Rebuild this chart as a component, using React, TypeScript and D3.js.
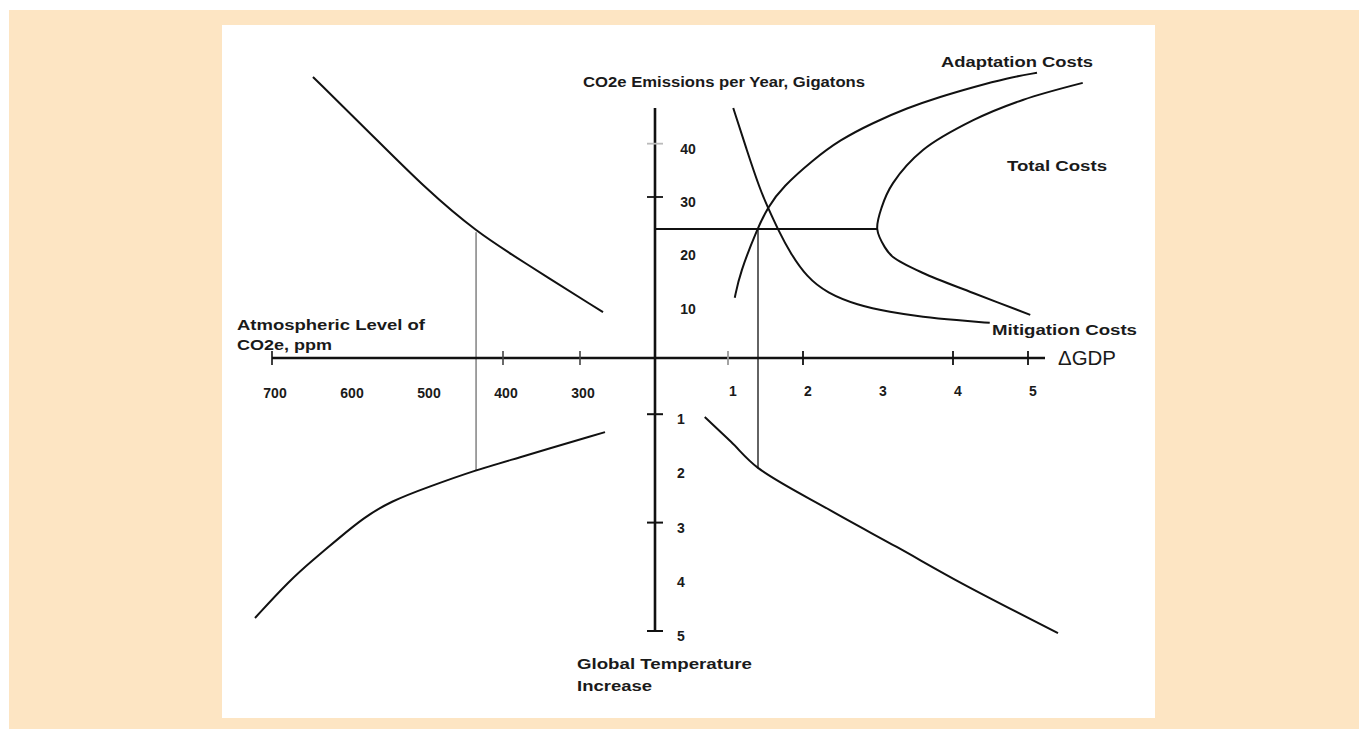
import React, { useEffect, useRef } from "react";
import * as d3 from "d3";

// upper left quadrant: atmospheric CO2e (ppm) vs emissions (Gt/yr)
const upperLeftPpm = [646.8, 572.7, 498.7, 433.8, 377.9, 270.1];
const upperLeftEmissions = [52.5, 42.0, 31.3, 23.4, 18.2, 8.4];

// lower left quadrant: ppm vs temperature increase
const lowerLeftPpm = [267.5, 390.9, 435.1, 494.8, 546.8, 581.8, 611.7, 646.8, 676.6, 722.1];
const lowerLeftTemp = [1.33, 1.85, 2.03, 2.33, 2.61, 2.92, 3.27, 3.69, 4.06, 4.76];

// upper right quadrant: cost curves (delta GDP vs emissions)
const adaptationGdp = [1.09, 1.16, 1.39, 1.53, 1.73, 2.13, 2.49, 2.93, 3.39, 3.83, 4.27, 4.72, 5.12];
const adaptationEmissions = [11.1, 15.8, 24.0, 28.1, 31.9, 36.9, 40.7, 43.9, 46.7, 48.8, 50.6, 52.3, 53.3];

const mitigationGdp = [1.07, 1.25, 1.43, 1.53, 1.67, 1.83, 2.05, 2.32, 2.72, 3.16, 3.6, 4.05, 4.49];
const mitigationEmissions = [46.7, 38.8, 31.3, 28.1, 23.8, 19.5, 15.0, 12.0, 9.75, 8.4, 7.5, 6.9, 6.4];

const totalGdp = [5.73, 4.93, 4.27, 3.6, 3.2, 3.05, 2.99, 3.09, 3.2, 3.6, 4.27, 5.03];
const totalEmissions = [51.4, 48.2, 44.4, 38.8, 32.6, 28.1, 24.0, 20.6, 18.75, 15.75, 12.0, 7.9];

// lower right quadrant: delta GDP vs temperature
const lowerRightGdp = [0.69, 1.04, 1.4, 2.36, 3.25, 4.13, 5.4];
const lowerRightTemp = [1.05, 1.51, 1.99, 2.77, 3.45, 4.13, 5.04];

// optimum read-offs
const optimumEmissions = 24;
const optimumGdp = 1.4;
const optimumTemp = 2;
const minTotalGdp = 2.99;
const leftRefPpm = 435;
const leftRefEmissions = 23.4;
const leftRefTemp = 2.03;

// tick labels
const ppmTicks = [700, 600, 500, 400, 300];
const ppmTickMarks = [700, 400, 300];
const gdpTicks = [1, 2, 3, 4, 5];
const gdpTickMarks = [1, 2, 4, 5];
const emissionTicks = [40, 30, 20, 10];
const emissionTickMarks = [30, 40];
const tempTicks = [1, 2, 3, 4, 5];
const tempTickMarks = [1, 3, 5];

const FONT = "'Liberation Sans', Arial, sans-serif";

export default function App() {
  const ref = useRef<SVGSVGElement>(null);

  useEffect(() => {
    const svg = d3.select(ref.current);
    svg.selectAll("*").remove();

    const ppmX = d3.scaleLinear().domain([300, 700]).range([580, 272]);
    const gdpX = d3.scaleLinear().domain([0, 5]).range([653, 1028]);
    const emY = d3.scaleLinear().domain([0, 30]).range([357, 197]);
    const tempY = d3.scaleLinear().domain([0, 5]).range([360, 631]);

    const axisX = 655;
    const axisY = 358;

    // background
    svg.append("rect").attr("x", 9).attr("y", 10).attr("width", 1350).attr("height", 719).attr("fill", "#fde5c3");
    svg.append("rect").attr("x", 222).attr("y", 25).attr("width", 933).attr("height", 693).attr("fill", "#ffffff");

    const g = svg.append("g");

    // reference lines
    g.append("line")
      .attr("x1", ppmX(leftRefPpm)).attr("x2", ppmX(leftRefPpm))
      .attr("y1", emY(leftRefEmissions)).attr("y2", tempY(leftRefTemp))
      .attr("stroke", "#555").attr("stroke-width", 1.1);
    g.append("line")
      .attr("x1", gdpX(optimumGdp)).attr("x2", gdpX(optimumGdp))
      .attr("y1", emY(optimumEmissions)).attr("y2", tempY(optimumTemp))
      .attr("stroke", "#222").attr("stroke-width", 1.4);
    g.append("line")
      .attr("x1", axisX).attr("x2", gdpX(minTotalGdp))
      .attr("y1", emY(optimumEmissions)).attr("y2", emY(optimumEmissions))
      .attr("stroke", "#111").attr("stroke-width", 2);

    // axes
    g.append("line").attr("x1", 272).attr("x2", 1045).attr("y1", axisY).attr("y2", axisY)
      .attr("stroke", "#111").attr("stroke-width", 2.6);
    g.append("line").attr("x1", axisX).attr("x2", axisX).attr("y1", 108).attr("y2", tempY(5))
      .attr("stroke", "#111").attr("stroke-width", 2.6);

    // tick marks
    g.selectAll(".ppmTick").data(ppmTickMarks).enter().append("line")
      .attr("x1", d => ppmX(d)).attr("x2", d => ppmX(d))
      .attr("y1", axisY - 7).attr("y2", axisY + 7)
      .attr("stroke", (d, i) => (i === 0 ? "#111" : "#444")).attr("stroke-width", 1.6);
    g.selectAll(".gdpTick").data(gdpTickMarks).enter().append("line")
      .attr("x1", d => gdpX(d)).attr("x2", d => gdpX(d))
      .attr("y1", axisY - 7).attr("y2", axisY + 7)
      .attr("stroke", d => (d === 1 ? "#999" : "#111")).attr("stroke-width", 1.8);
    g.selectAll(".emTick").data(emissionTickMarks).enter().append("line")
      .attr("x1", axisX - 8).attr("x2", axisX + 8)
      .attr("y1", d => emY(d)).attr("y2", d => emY(d))
      .attr("stroke", d => (d === 40 ? "#bbb" : "#111")).attr("stroke-width", 1.8);
    g.selectAll(".tempTick").data(tempTickMarks).enter().append("line")
      .attr("x1", axisX - 8).attr("x2", axisX + 8)
      .attr("y1", d => tempY(d)).attr("y2", d => tempY(d))
      .attr("stroke", "#111").attr("stroke-width", 2);

    // tick labels
    const tickText = (sel: any) =>
      sel.attr("font-family", FONT).attr("font-weight", "bold").attr("font-size", 14)
        .attr("fill", "#1a1a1a").attr("text-anchor", "middle");

    g.selectAll(".ppmLabel").data(ppmTicks).enter().append("text")
      .call(tickText).attr("x", d => ppmX(d) + 3).attr("y", 398).text(d => d);
    g.selectAll(".gdpLabel").data(gdpTicks).enter().append("text")
      .call(tickText).attr("x", d => gdpX(d) + 5).attr("y", 396).text(d => d);
    g.selectAll(".emLabel").data(emissionTicks).enter().append("text")
      .call(tickText).attr("x", 688).attr("y", d => emY(d) + 10).text(d => d);
    g.selectAll(".tempLabel").data(tempTicks).enter().append("text")
      .call(tickText).attr("x", 681).attr("y", d => tempY(d) + 10).text(d => d);

    // curves
    const drawCurve = (xs: number[], ys: number[], sx: any, sy: any, curve: any) => {
      const pts = xs.map((v, i) => [sx(v), sy(ys[i])] as [number, number]);
      g.append("path")
        .attr("d", d3.line().curve(curve)(pts))
        .attr("fill", "none").attr("stroke", "#111").attr("stroke-width", 2);
    };
    const smooth = d3.curveBasis;
    drawCurve(upperLeftPpm, upperLeftEmissions, ppmX, emY, smooth);
    drawCurve(lowerLeftPpm, lowerLeftTemp, ppmX, tempY, smooth);
    drawCurve(adaptationGdp, adaptationEmissions, gdpX, emY, smooth);
    drawCurve(mitigationGdp, mitigationEmissions, gdpX, emY, smooth);
    drawCurve(totalGdp, totalEmissions, gdpX, emY, d3.curveCatmullRom.alpha(0.5));
    drawCurve(lowerRightGdp, lowerRightTemp, gdpX, tempY, d3.curveCatmullRom.alpha(0.5));

    // titles and curve names
    const labels = [
      { t: "CO2e Emissions per Year, Gigatons", x: 583, y: 87, w: 282 },
      { t: "Adaptation Costs", x: 941, y: 67, w: 152 },
      { t: "Total Costs", x: 1007, y: 171, w: 100 },
      { t: "Mitigation Costs", x: 992, y: 335, w: 145 },
      { t: "Atmospheric Level of", x: 237, y: 330, w: 188 },
      { t: "CO2e, ppm", x: 237, y: 350, w: 95 },
      { t: "Global Temperature", x: 577, y: 669, w: 175 },
      { t: "Increase", x: 577, y: 691, w: 75 },
    ];
    g.selectAll(".lbl").data(labels).enter().append("text")
      .attr("x", d => d.x).attr("y", d => d.y)
      .attr("font-family", FONT).attr("font-weight", "bold").attr("font-size", 14)
      .attr("fill", "#1a1a1a")
      .attr("textLength", d => d.w).attr("lengthAdjust", "spacingAndGlyphs")
      .text(d => d.t);

    g.append("text")
      .attr("x", 1058).attr("y", 365)
      .attr("font-family", FONT).attr("font-size", 20).attr("fill", "#1a1a1a")
      .attr("textLength", 58).attr("lengthAdjust", "spacingAndGlyphs")
      .text("ΔGDP");
  }, []);

  return (
    <svg
      ref={ref}
      width={1359}
      height={729}
      style={{ position: "absolute", left: 0, top: 0, background: "#ffffff" }}
    />
  );
}
